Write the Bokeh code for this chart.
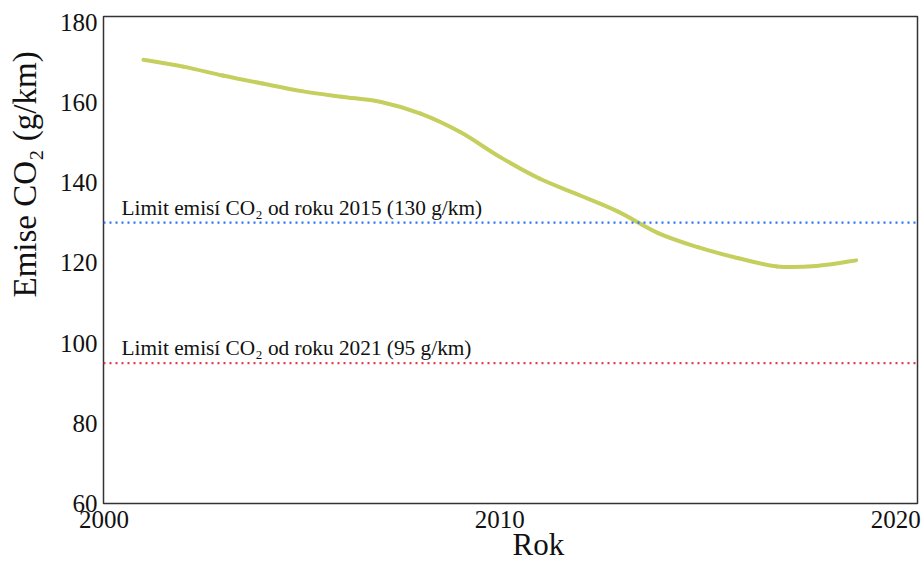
import math
from bokeh.plotting import figure
from bokeh.models import Span, Label, FixedTicker, Range1d, Title
from bokeh.embed import file_html
from bokeh.resources import INLINE

# Data
years = [2001, 2002, 2003, 2004, 2005, 2006, 2007, 2008, 2009, 2010,
         2011, 2012, 2013, 2014, 2015, 2016, 2017, 2018, 2019]
emissions = [170.6, 168.9, 166.7, 164.7, 162.8, 161.4, 160.1, 157.2, 152.6, 146.4,
             141.0, 136.9, 132.7, 127.4, 123.9, 121.2, 119.1, 119.2, 120.6]
limit_2015 = 130
limit_2021 = 95
limit_2015_text = "Limit emisí CO₂ od roku 2015 (130 g/km)"
limit_2021_text = "Limit emisí CO₂ od roku 2021 (95 g/km)"
x_ticks = [2000, 2010, 2020]
y_ticks = [60, 80, 100, 120, 140, 160, 180]
x_title = "Rok"
y_title = "Emise CO₂ (g/km)"

FONT = "Liberation Serif"
Y0, Y1 = 59.99, 181.4
FRAME_H = 487

p = figure(frame_width=814, frame_height=FRAME_H, output_backend="svg", toolbar_location=None,
           x_range=Range1d(1999.99, 2020.55), y_range=Range1d(Y0, Y1),
           min_border_left=103, min_border_right=5, min_border_top=16, min_border_bottom=60)

p.background_fill_color = "white"
p.border_fill_color = "white"
p.outline_line_color = "#333333"
p.outline_line_width = 1.5
p.grid.visible = False

for ax in (p.xaxis[0], p.yaxis[0]):
    ax.axis_line_color = None
    ax.major_tick_line_color = None
    ax.minor_tick_line_color = None
    ax.major_tick_in = 0
    ax.major_tick_out = 0
    ax.minor_tick_in = 0
    ax.minor_tick_out = 0
    ax.major_label_text_font = FONT
    ax.major_label_text_font_size = "25px"
    ax.major_label_text_color = "#111111"

p.xaxis[0].ticker = FixedTicker(ticks=x_ticks)
p.yaxis[0].ticker = FixedTicker(ticks=y_ticks)
p.xaxis[0].major_label_standoff = 7
p.yaxis[0].major_label_standoff = 6

# Limit lines
p.add_layout(Span(location=limit_2015, dimension="width", line_color="#2b74f5",
                  line_width=2.2, line_dash="2 4"))
p.add_layout(Span(location=limit_2021, dimension="width", line_color="#e33b4e",
                  line_width=2.2, line_dash="2 4"))

# Emission curve drawn as a smooth Catmull-Rom spline through the read points
n = len(years)
x0, y0, x1, y1, cx0, cy0, cx1, cy1 = [], [], [], [], [], [], [], []
for i in range(n - 1):
    xa, ya = years[max(i - 1, 0)], emissions[max(i - 1, 0)]
    xb, yb = years[i], emissions[i]
    xc, yc = years[i + 1], emissions[i + 1]
    xd, yd = years[min(i + 2, n - 1)], emissions[min(i + 2, n - 1)]
    x0.append(xb); y0.append(yb); x1.append(xc); y1.append(yc)
    cx0.append(xb + (xc - xa) / 6); cy0.append(yb + (yc - ya) / 6)
    cx1.append(xc - (xd - xb) / 6); cy1.append(yc - (yd - yb) / 6)
p.bezier(x0=x0, y0=y0, x1=x1, y1=y1, cx0=cx0, cy0=cy0, cx1=cx1, cy1=cy1,
         line_color="#c4cf5e", line_width=4, line_cap="round")

# Limit labels, floated just above their lines
lift = 3 * (Y1 - Y0) / FRAME_H
for lim, txt in ((limit_2015, limit_2015_text), (limit_2021, limit_2021_text)):
    p.add_layout(Label(x=18, x_units="screen", y=lim + lift, text=txt,
                       text_font=FONT, text_font_size="21.3px", text_color="#111111",
                       text_baseline="bottom", text_align="left"))

# Axis titles
p.add_layout(Title(text=x_title, align="left", offset=409, standoff=-8, vertical_align="top",
                   text_font=FONT, text_font_size="31px", text_font_style="normal",
                   text_color="#111111"), "below")
# small gap between the y tick labels and the y title
p.add_layout(Title(text=" ", standoff=6.5, text_font=FONT, text_font_size="1px",
                   text_font_style="normal"), "left")
p.add_layout(Title(text=y_title, align="left", offset=206, standoff=7,
                   text_font=FONT, text_font_size="33px", text_font_style="normal",
                   text_color="#111111"), "left")

open("out.html", "w").write(file_html(p, INLINE))
